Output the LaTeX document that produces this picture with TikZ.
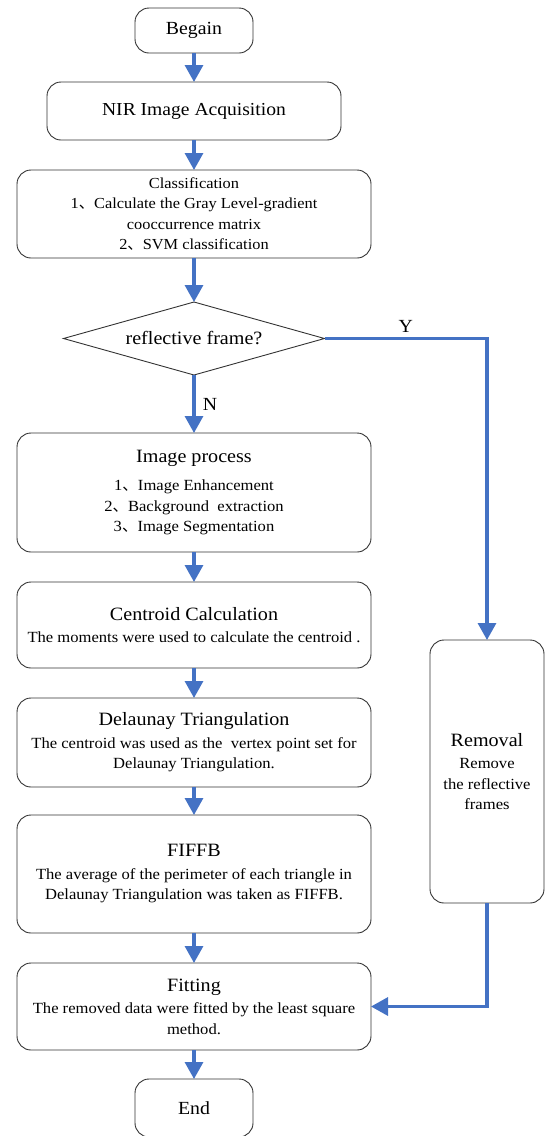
\documentclass[tikz,border=0pt]{standalone}
\usepackage{fontspec}
\setmainfont{Liberation Serif}[FakeStretch=1.07]
\newfontfamily\cjk{Noto Sans CJK SC}
\usetikzlibrary{arrows.meta,positioning,shapes.geometric}
\definecolor{flowblue}{RGB}{68,114,196}
\newcommand{\dun}{{\cjk 、}}
\newcommand{\boxtitle}[1]{{\fontsize{18.8}{20}\selectfont #1}}
\tikzset{
    stepbox/.style={draw=black!80, rounded corners=14pt, align=center, line width=0.9pt,
        font=\fontsize{15.5}{20.5}\selectfont, minimum width=354pt, inner sep=2pt, outer sep=0pt},
    termbox/.style={stepbox, minimum width=118pt, minimum height=45pt,
        font=\fontsize{18.5}{20}\selectfont},
    decision/.style={draw=black!80, diamond, aspect=3.58, line width=0.9pt, inner sep=0pt,
        outer sep=0pt, minimum width=261pt, minimum height=73pt, font=\fontsize{18.8}{20}\selectfont},
    flowarrow/.style={-{Triangle[length=17pt,width=18pt]}, line width=3.2pt, draw=flowblue},
    flowlabel/.style={font=\fontsize{18.5}{20}\selectfont}
}

\begin{document}
\begin{tikzpicture}[x=1pt, y=1pt, node distance=29pt]
\useasboundingbox (0,0) rectangle (545,-1136);
\node[termbox] (begin) at (194,-30.5) {Begain};
\node[stepbox, below=of begin, minimum width=294pt, minimum height=58pt,
    font=\fontsize{18.3}{20}\selectfont] (acq) {NIR Image Acquisition};
\node[stepbox, below=30pt of acq, minimum height=88pt, font=\fontsize{15.3}{20.5}\selectfont] (classify)
    {Classification\\ 1\dun Calculate the Gray Level-gradient\\ cooccurrence matrix\\ 2\dun SVM classification};
\node[decision, below=44pt of classify] (reflect) {reflective frame?};
\node[stepbox, below=58pt of reflect, minimum height=119pt] (imgproc)
    {\boxtitle{Image process}\\[8pt] 1\dun Image Enhancement\\ 2\dun Background\ \ extraction\\ 3\dun Image Segmentation};
\node[stepbox, below=30pt of imgproc, minimum height=86pt] (centroid)
    {\boxtitle{Centroid Calculation}\\[2pt] The moments were used to calculate the centroid .};
\node[stepbox, below=30pt of centroid, minimum height=89pt] (delaunay)
    {\boxtitle{Delaunay Triangulation}\\[2pt] The centroid was used as the\ \ vertex point set for\\ Delaunay Triangulation.};
\node[stepbox, below=28pt of delaunay, minimum height=118pt] (fiffb)
    {\boxtitle{FIFFB}\\[2pt] The average of the perimeter of each triangle in\\ Delaunay Triangulation was taken as FIFFB.};
\node[stepbox, below=30pt of fiffb, minimum height=87pt] (fitting)
    {\boxtitle{Fitting}\\[2pt] The removed data were fitted by the least square\\ method.};
\node[termbox, below=of fitting, minimum height=58pt] (end) {End};
% removal branch
\node[stepbox, minimum width=114pt, minimum height=263pt] (removal) at (487,-771.5)
    {\boxtitle{Removal}\\[2pt] Remove\\ the reflective\\ frames};

\draw[flowarrow] (begin) -- (acq);
\draw[flowarrow] (acq) -- (classify);
\draw[flowarrow] (classify) -- (reflect);
\draw[flowarrow] (reflect) -- node[flowlabel, right=4pt]{N} (imgproc);
\draw[flowarrow] (reflect) -| node[flowlabel, pos=0.25, above=1pt]{Y} (removal);
\draw[flowarrow] (imgproc) -- (centroid);
\draw[flowarrow] (centroid) -- (delaunay);
\draw[flowarrow] (delaunay) -- (fiffb);
\draw[flowarrow] (fiffb) -- (fitting);
\draw[flowarrow] (removal) |- (fitting);
\draw[flowarrow] (fitting) -- (end);
\end{tikzpicture}
\end{document}
